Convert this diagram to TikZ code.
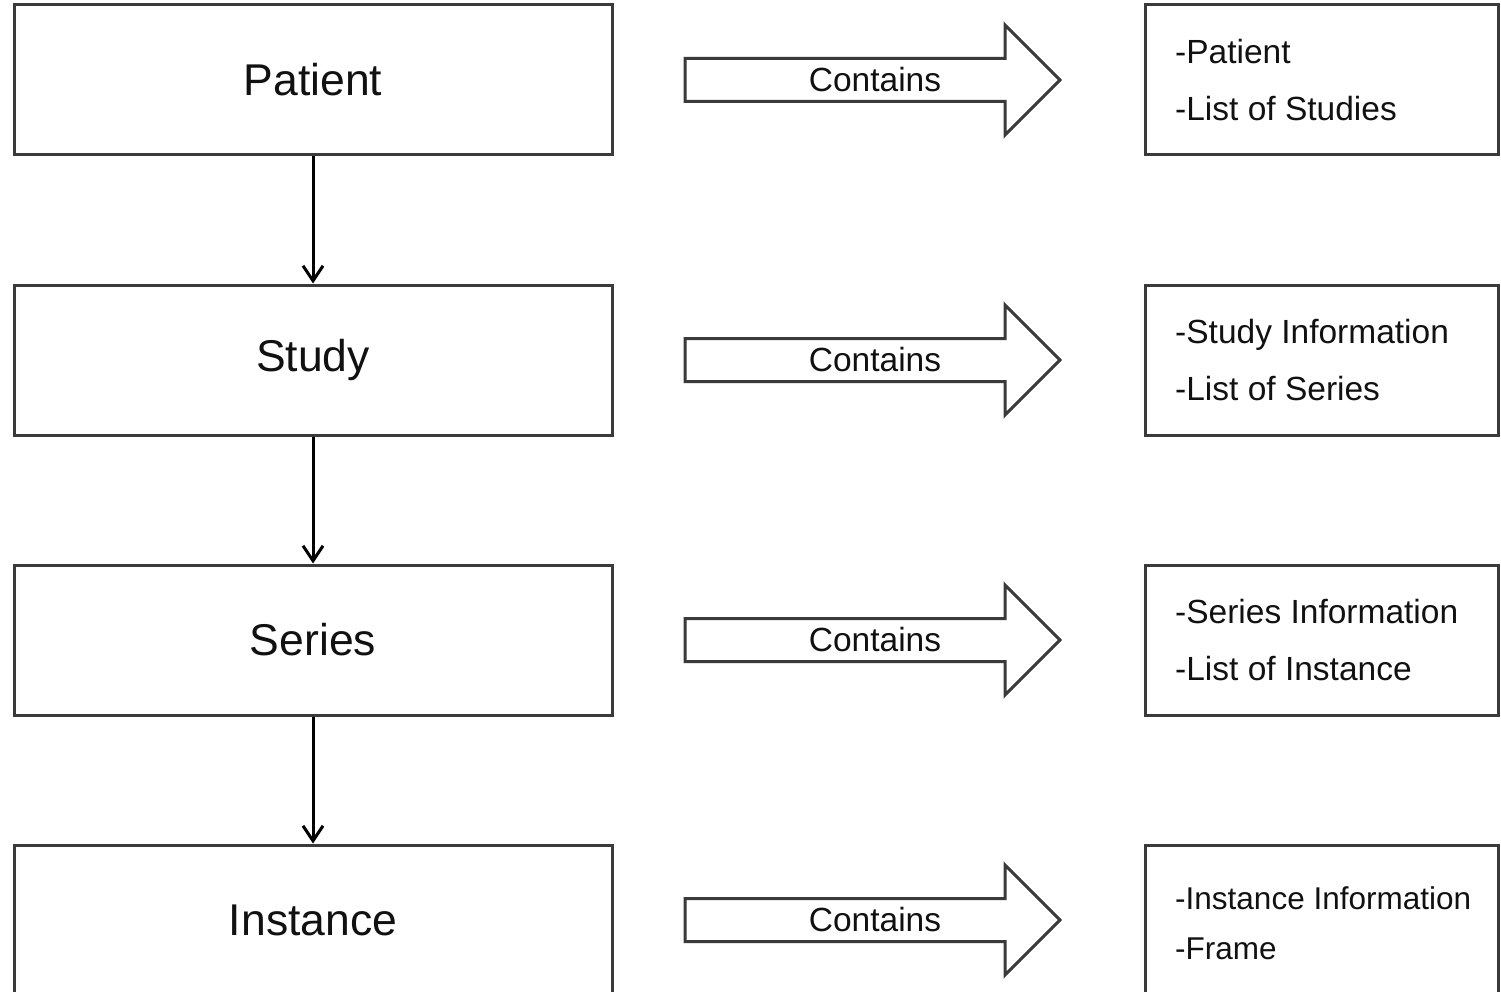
\documentclass[tikz,border=0pt]{standalone}
\usepackage{fontspec}
\setmainfont{Liberation Sans}
\usetikzlibrary{arrows.meta}
\definecolor{boxgray}{HTML}{3A3A3A}
\definecolor{txt}{HTML}{111111}
\begin{document}
\begin{tikzpicture}[x=1pt,y=-1pt,
  level/.style={draw=boxgray, line width=3pt, minimum width=598pt, minimum height=150pt,
    inner sep=0pt, text=txt, font=\fontsize{44.5}{50}\selectfont},
  info/.style={draw=boxgray, line width=3pt, minimum width=353pt, minimum height=150pt,
    inner sep=0pt},
  infotext/.style={anchor=west, inner sep=0pt, text=txt, align=left,
    font=\fontsize{33.5}{57}\selectfont},
  blockarrow/.style={draw=boxgray, line width=3pt, fill=white, line join=miter},
  lbl/.style={text=txt, font=\fontsize{33.5}{40}\selectfont, inner sep=0pt},
  down/.style={draw=black, line width=3pt, -{Straight Barb[length=15pt,width=20pt,line width=3pt]}}
]
\useasboundingbox (0,0) rectangle (1501,992);
\clip (0,0) rectangle (1501,992);

% left level boxes
\node[level] (patient)  at (313,80)  {Patient};
\node[level] (study)    at (313,360) {Study};
\node[level] (series)   at (313,640) {Series};
\node[level] (instance) at (313,920) {Instance};

\draw[down] (patient.south) -- (study.north);
\draw[down] (study.south) -- (series.north);
\draw[down] (series.south) -- (instance.north);

% right info boxes
\node[info] (ipatient)  at (1321.5,80)  {};
\node[info] (istudy)    at (1321.5,360) {};
\node[info] (iseries)   at (1321.5,640) {};
\node[info] (iinstance) at (1321.5,920) {};

\node[infotext] (tpatient) at (1175,80)  {-Patient\\-List of Studies};
\node[infotext] (tstudy)   at (1175,360) {-Study Information\\-List of Series};
\node[infotext] (tseries)  at (1175,640) {-Series Information\\-List of Instance};
\node[infotext, font=\fontsize{31.5}{50}\selectfont] (tinstance) at (1175,923)
  {-Instance Information\\-Frame};

% block arrows
\foreach \yy/\nm in {80/a1,360/a2,640/a3,920/a4}{
  \draw[blockarrow] (685,\yy-21.5) -- (1005,\yy-21.5) -- (1005,\yy-55) -- (1060,\yy)
     -- (1005,\yy+55) -- (1005,\yy+21.5) -- (685,\yy+21.5) -- cycle;
  \node[lbl] (\nm) at (875,\yy) {Contains};
}
\end{tikzpicture}
\end{document}
